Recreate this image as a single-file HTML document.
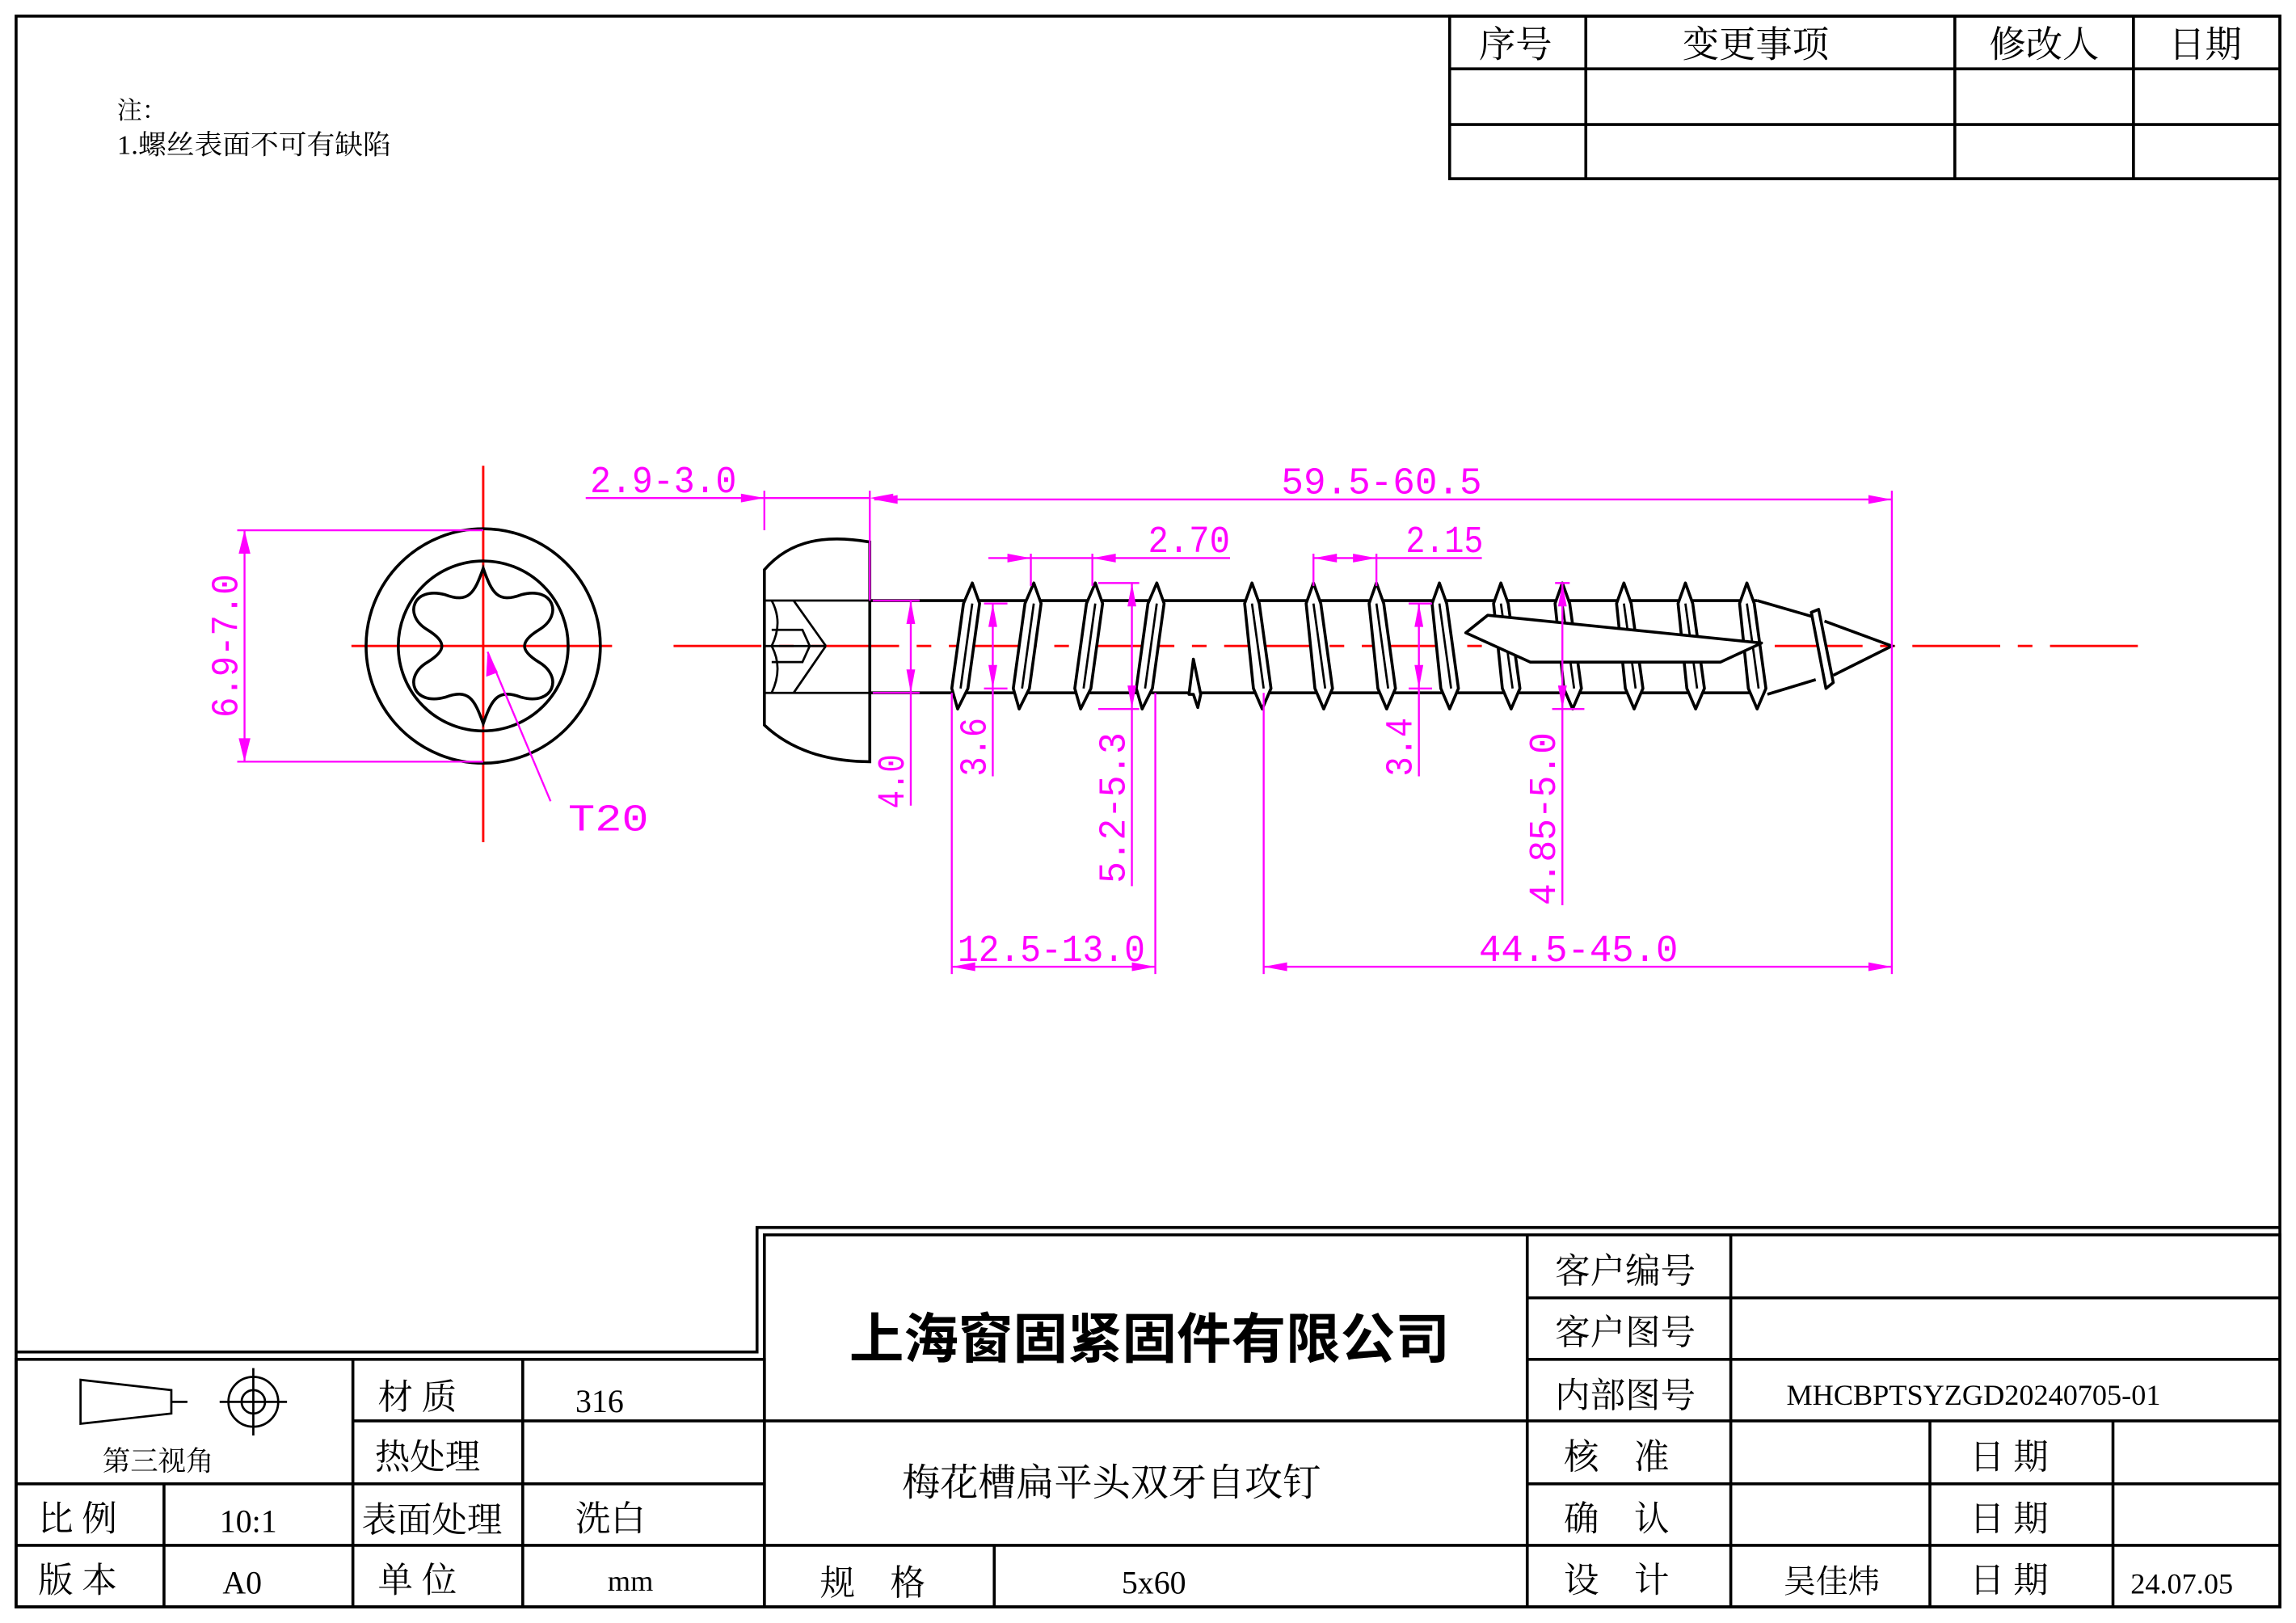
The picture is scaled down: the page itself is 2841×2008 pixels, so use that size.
<!DOCTYPE html>
<html><head><meta charset="utf-8"><style>
html,body{margin:0;padding:0;background:#fff}
svg{display:block}
.k{stroke:#000;fill:none;stroke-width:2}
.m{stroke:#f0f;fill:none;stroke-width:1.3}
.mf{fill:#f0f;stroke:none}
.r{stroke:#f00;stroke-width:1.6;fill:none}
.dt{fill:#f0f;font-family:"Liberation Mono",monospace;font-size:26px}
.c{font-family:"Liberation Serif","Noto Serif CJK SC",serif;fill:#000}
.th{fill:#fff;stroke:#000;stroke-width:2;stroke-linejoin:round}
</style></head><body>
<svg width="2841" height="2008" viewBox="0 0 1568 1108" preserveAspectRatio="none" xmlns="http://www.w3.org/2000/svg">
<rect x="0" y="0" width="1568" height="1108" fill="#fff"/>
<rect class="k" x="11" y="11" width="1546" height="1086"/>
<g class="k">
<rect x="990" y="11" width="567" height="111"/>
<line x1="990" y1="47" x2="1557" y2="47"/><line x1="990" y1="85" x2="1557" y2="85"/>
<line x1="1083" y1="11" x2="1083" y2="122"/><line x1="1335" y1="11" x2="1335" y2="122"/><line x1="1457" y1="11" x2="1457" y2="122"/>
</g>
<g class="c" font-size="25" text-anchor="middle">
<text x="1035" y="39">序号</text><text x="1199" y="39">变更事项</text><text x="1396" y="39">修改人</text><text x="1506" y="39">日期</text>
</g>
<text class="c" x="80" y="81" font-size="17">注：</text>
<text class="c" x="80" y="105" font-size="18.5" textLength="187" lengthAdjust="spacingAndGlyphs">1.螺丝表面不可有缺陷</text>

<g class="k">
<polyline points="11,923 517,923 517,838 1557,838"/>
<rect x="522" y="843" width="1035" height="254"/>
<rect x="11" y="928" width="511" height="169"/>
<line x1="1043" y1="843" x2="1043" y2="1097"/>
<line x1="1182" y1="843" x2="1182" y2="1097"/>
<line x1="1043" y1="886" x2="1557" y2="886"/><line x1="1043" y1="928" x2="1557" y2="928"/>
<line x1="522" y1="970" x2="1557" y2="970"/><line x1="1043" y1="1013" x2="1557" y2="1013"/>
<line x1="522" y1="1055" x2="1557" y2="1055"/>
<line x1="1318" y1="970" x2="1318" y2="1097"/><line x1="1443" y1="970" x2="1443" y2="1097"/>
<line x1="679" y1="1055" x2="679" y2="1097"/>
<line x1="241" y1="928" x2="241" y2="1097"/><line x1="357" y1="928" x2="357" y2="1097"/>
<line x1="241" y1="970" x2="522" y2="970"/><line x1="11" y1="1013" x2="522" y2="1013"/><line x1="11" y1="1055" x2="522" y2="1055"/>
<line x1="112" y1="1013" x2="112" y2="1097"/>
</g>
<g class="c" font-size="24">
<text x="580" y="927" font-size="37" font-weight="bold" font-family="'Noto Sans CJK SC',sans-serif" textLength="410" lengthAdjust="spacingAndGlyphs">上海窗固紧固件有限公司</text>
<text x="1062" y="876">客户编号</text><text x="1062" y="918">客户图号</text><text x="1062" y="961">内部图号</text>
<text x="1220" y="959" font-size="20">MHCBPTSYZGD20240705-01</text>
<text x="1068" y="1003">核　准</text><text x="1068" y="1045">确　认</text><text x="1068" y="1087">设　计</text>
<text x="1345" y="1003">日 期</text><text x="1345" y="1045">日 期</text><text x="1345" y="1087">日 期</text>
<text x="1218" y="1087" font-size="22">吴佳炜</text><text x="1455" y="1088" font-size="20">24.07.05</text>
<text x="616" y="1021" font-size="26">梅花槽扁平头双牙自攻钉</text>
<text x="560" y="1089">规　格</text><text x="766" y="1088" font-size="22">5x60</text>
<text x="258" y="962">材 质</text><text x="393" y="964" font-size="22">316</text>
<text x="256" y="1003">热处理</text>
<text x="247" y="1046">表面处理</text><text x="393" y="1045">洗白</text>
<text x="258" y="1087">单 位</text><text x="415" y="1086" font-size="20">mm</text>
<text x="26" y="1045">比 例</text><text x="150" y="1046" font-size="22">10:1</text>
<text x="26" y="1087">版 本</text><text x="152" y="1088" font-size="22">A0</text>
<text x="70" y="1004" font-size="19">第三视角</text>
</g>
<g stroke="#000" stroke-width="1.5" fill="none">
<polygon points="55,942 117,949 117,965 55,972"/>
<line x1="117" y1="957" x2="128" y2="957"/>
<circle cx="173" cy="957" r="17"/><circle cx="173" cy="957" r="8"/>
<line x1="150" y1="957" x2="196" y2="957"/><line x1="173" y1="934" x2="173" y2="980"/>
</g>

<line class="r" x1="330" y1="318" x2="330" y2="575"/>
<line class="r" x1="240" y1="441" x2="418" y2="441"/>
<circle class="k" cx="330" cy="441" r="80"/>
<circle class="k" cx="330" cy="441" r="58"/>
<path class="k" d="M330,388 C336,405 340,412 356,406 C378,400 385,420 368,430 C355,438 355,444 368,452 C385,462 378,482 356,476 C340,470 336,477 330,494 C324,477 320,470 304,476 C282,482 275,462 292,452 C305,444 305,438 292,430 C275,420 282,400 304,406 C320,412 324,405 330,388 Z"/>
<g class="m"><line x1="162" y1="362" x2="330" y2="362"/><line x1="162" y1="520" x2="330" y2="520"/><line x1="167" y1="362" x2="167" y2="520"/></g>
<polygon class="mf" points="167,362 163,378 171,378"/><polygon class="mf" points="167,520 163,504 171,504"/>
<text class="dt" transform="translate(162,490) rotate(-90)" textLength="98" lengthAdjust="spacingAndGlyphs">6.9-7.0</text>
<line class="m" x1="333" y1="445" x2="376" y2="547"/>
<polygon class="mf" points="333,445 332,462 340,459"/>
<text class="dt" x="388" y="567" textLength="55" lengthAdjust="spacingAndGlyphs">T20</text>

<line class="r" x1="460" y1="441" x2="1470" y2="441" stroke-dasharray="60,12,10,12"/>

<path class="k" d="M522,410 L522,389 C540,368 565,365 594,370 L594,520 C565,520 540,512 522,495 Z"/>
<g stroke="#000" stroke-width="1.5" fill="none">
<line x1="522" y1="410" x2="594" y2="410"/><line x1="522" y1="473" x2="594" y2="473"/>
<line x1="542" y1="410" x2="564" y2="441"/><line x1="542" y1="473" x2="564" y2="441"/>
<line x1="522" y1="441" x2="564" y2="441"/>
<path d="M527,410 q8,15 0,31 q8,15 0,32"/>
<path d="M527,430 L548,430 L553,441 L548,452 L527,452"/>
</g>
<g class="k"><line x1="594" y1="410" x2="1200" y2="410"/><line x1="594" y1="473" x2="1200" y2="473"/></g>

<g id="t1">
<polygon class="th" points="664,398 669,412 661,470 654,484 650,470 658,412"/>
<line x1="664" y1="412" x2="656" y2="470" stroke="#000" stroke-width="1.5"/>
</g>
<use href="#t1" x="42"/><use href="#t1" x="84"/><use href="#t1" x="126"/>
<polygon class="th" points="815,450 820,474 818,483 815,474 812,474"/>
<g id="t2">
<polygon class="th" points="855,398 860,412 868,470 862,484 856,470 850,412"/>
<line x1="855" y1="412" x2="863" y2="470" stroke="#000" stroke-width="1.5"/>
</g>
<use href="#t2" x="42"/><use href="#t2" x="85"/><use href="#t2" x="128"/><use href="#t2" x="170"/><use href="#t2" x="212"/><use href="#t2" x="254"/><use href="#t2" x="296"/><use href="#t2" x="338"/>
<g class="k">
<polyline points="1200,410 1238,421"/><polyline points="1207,474 1240,464"/>
<polygon class="th" points="1237,418 1242,416 1252,466 1247,470"/>
<polyline points="1246,424 1292,441 1252,461"/>
<polygon class="th" points="1001,432 1016,420 1203,439 1175,452 1045,452"/>
</g>

<g class="m">
<line x1="522" y1="335" x2="522" y2="362"/><line x1="594" y1="335" x2="594" y2="410"/>
<line x1="400" y1="340" x2="594" y2="340"/>
<line x1="597" y1="341" x2="1292" y2="341"/><line x1="1292" y1="335" x2="1292" y2="665"/>
<line x1="675" y1="381" x2="840" y2="381"/><line x1="704" y1="378" x2="704" y2="400"/><line x1="746" y1="378" x2="746" y2="400"/>
<line x1="897" y1="381" x2="1012" y2="381"/><line x1="897" y1="378" x2="897" y2="400"/><line x1="940" y1="378" x2="940" y2="400"/>
<line x1="596" y1="410" x2="628" y2="410"/><line x1="596" y1="473" x2="628" y2="473"/>
<line x1="622" y1="410" x2="622" y2="550"/>
<line x1="672" y1="412" x2="688" y2="412"/><line x1="672" y1="470" x2="688" y2="470"/><line x1="678" y1="412" x2="678" y2="530"/>
<line x1="750" y1="398" x2="778" y2="398"/><line x1="750" y1="484" x2="778" y2="484"/><line x1="773" y1="398" x2="773" y2="605"/>
<line x1="650" y1="473" x2="650" y2="665"/><line x1="789" y1="473" x2="789" y2="665"/><line x1="650" y1="660" x2="789" y2="660"/>
<line x1="962" y1="412" x2="978" y2="412"/><line x1="962" y1="470" x2="978" y2="470"/><line x1="969" y1="412" x2="969" y2="530"/>
<line x1="1062" y1="398" x2="1072" y2="398"/><line x1="1060" y1="484" x2="1082" y2="484"/><line x1="1067" y1="398" x2="1067" y2="618"/>
<line x1="863" y1="473" x2="863" y2="665"/><line x1="863" y1="660" x2="1292" y2="660"/>
</g>
<g class="mf">
<polygon points="522,340 506,337 506,343"/><polygon points="594,340 610,337 610,343"/>
<polygon points="597,341 613,338 613,344"/><polygon points="1292,341 1276,338 1276,344"/>
<polygon points="704,381 688,378 688,384"/><polygon points="746,381 762,378 762,384"/>
<polygon points="897,381 913,378 913,384"/><polygon points="940,381 924,378 924,384"/>
<polygon points="622,410 619,426 625,426"/><polygon points="622,473 619,457 625,457"/>
<polygon points="678,412 675,428 681,428"/><polygon points="678,470 675,454 681,454"/>
<polygon points="773,398 770,414 776,414"/><polygon points="773,484 770,468 776,468"/>
<polygon points="650,660 666,657 666,663"/><polygon points="789,660 773,657 773,663"/>
<polygon points="969,412 966,428 972,428"/><polygon points="969,470 966,454 972,454"/>
<polygon points="1067,398 1064,414 1070,414"/><polygon points="1067,484 1064,468 1070,468"/>
<polygon points="863,660 879,657 879,663"/><polygon points="1292,660 1276,657 1276,663"/>
</g>
<text class="dt" x="403" y="336" textLength="100" lengthAdjust="spacingAndGlyphs">2.9-3.0</text>
<text class="dt" x="875" y="337" textLength="137" lengthAdjust="spacingAndGlyphs">59.5-60.5</text>
<text class="dt" x="784" y="377" textLength="56" lengthAdjust="spacingAndGlyphs">2.70</text>
<text class="dt" x="960" y="377" textLength="53" lengthAdjust="spacingAndGlyphs">2.15</text>
<text class="dt" transform="translate(617,552) rotate(-90)" textLength="37" lengthAdjust="spacingAndGlyphs">4.0</text>
<text class="dt" transform="translate(673,530) rotate(-90)" textLength="40" lengthAdjust="spacingAndGlyphs">3.6</text>
<text class="dt" transform="translate(768,603) rotate(-90)" textLength="103" lengthAdjust="spacingAndGlyphs">5.2-5.3</text>
<text class="dt" transform="translate(964,530) rotate(-90)" textLength="40" lengthAdjust="spacingAndGlyphs">3.4</text>
<text class="dt" transform="translate(1062,618) rotate(-90)" textLength="118" lengthAdjust="spacingAndGlyphs">4.85-5.0</text>
<text class="dt" x="654" y="656" textLength="128" lengthAdjust="spacingAndGlyphs">12.5-13.0</text>
<text class="dt" x="1010" y="656" textLength="136" lengthAdjust="spacingAndGlyphs">44.5-45.0</text>
</svg>
</body></html>
